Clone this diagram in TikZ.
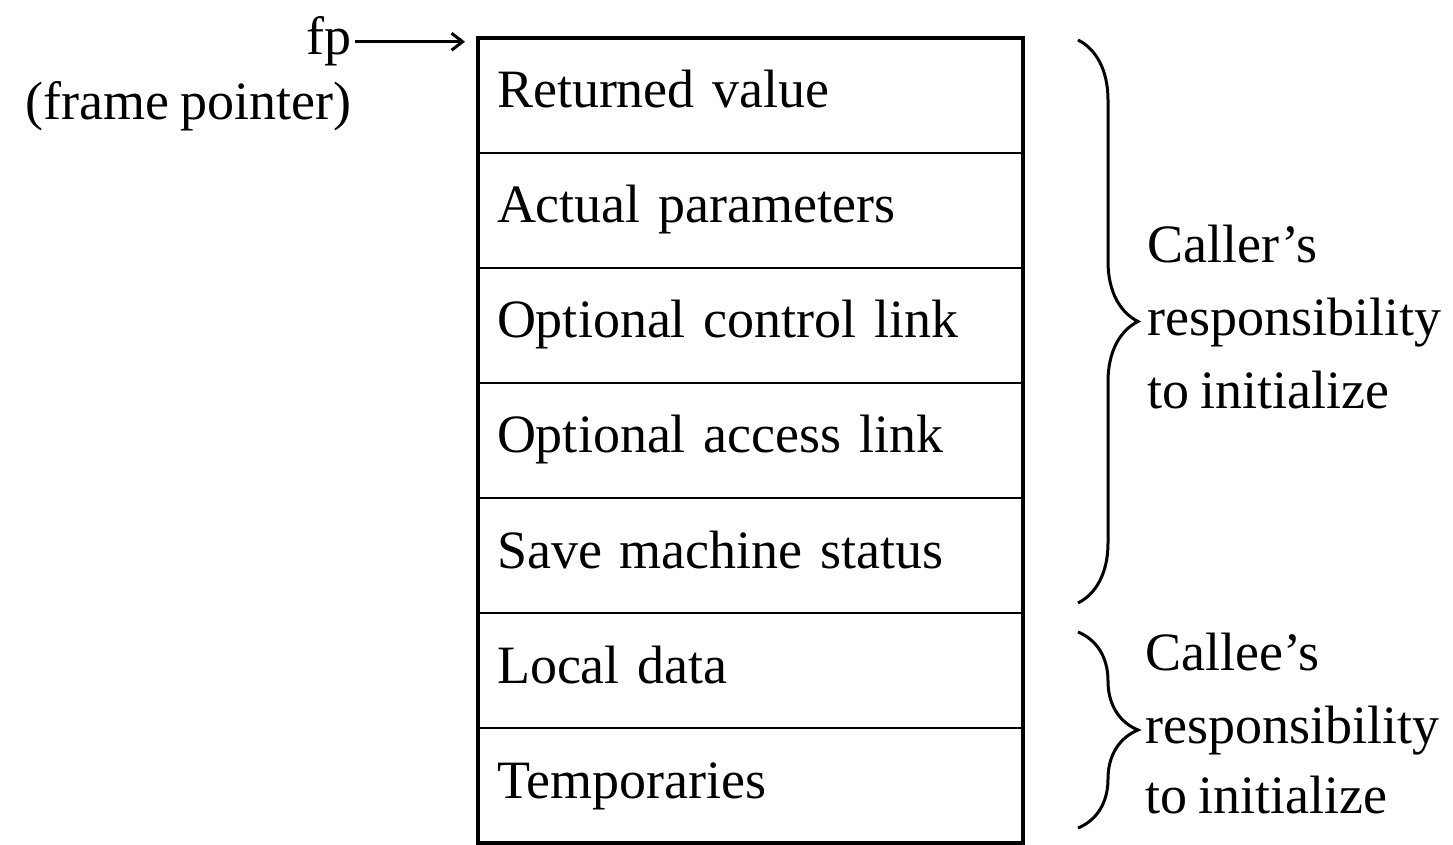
\documentclass[tikz,border=0pt]{standalone}
\usepackage{fontspec}
\setmainfont{Liberation Serif}[WordSpace=0.85]
\usetikzlibrary{arrows.meta,positioning,decorations.pathreplacing}
\begin{document}
\begin{tikzpicture}[x=1pt,y=1pt,
  big/.style={font=\fontsize{54}{73}\selectfont},
  row/.style={draw=black, line width=2.2pt, outer sep=0pt, minimum width=545pt, minimum height=115pt,
    inner xsep=19pt, inner ysep=0pt, text width=507pt, align=left,
    text height=40pt, text depth=15pt, big, anchor=north},
  lbl/.style={big, anchor=base west, inner sep=0pt},
  bracestyle/.style={decorate, line width=3pt, decoration={brace, amplitude=60pt, aspect=0.5}},
  ptr/.style={line width=3pt, -{Straight Barb[length=11pt,width=17pt,line width=3pt]}}
]
\useasboundingbox (0,0) rectangle (1453,844);
\fill[white] (0,0) rectangle (1453,844);

% frame rows
\node[row] (r1) at (750.5,806) {Returned value};
\node[row, below=0pt of r1] (r2) {Actual parameters};
\node[row, below=0pt of r2] (r3) {Optional control link};
\node[row, below=0pt of r3] (r4) {Optional access link};
\node[row, below=0pt of r4] (r5) {Save machine status};
\node[row, below=0pt of r5] (r6) {Local data};
\node[row, below=0pt of r6] (r7) {Temporaries};
\draw[line width=3.4pt] (r1.north west) rectangle (r7.south east);

% frame pointer
\node[big, anchor=base east, inner sep=0pt] (fp) at (352,789) {fp};
\node[big, anchor=base east, inner sep=0pt] (fpl) at (352,724) {(frame pointer)};
\coordinate (fptip) at (465,802);
\draw[ptr] (fp.east) ++(3pt,0) -- (fptip |- fp.east);

% braces
\coordinate (b1t) at (1078,804);
\coordinate (b1b) at (1078,241);
\coordinate (b2t) at (1078,212);
\coordinate (b2b) at (1078,16);
\draw[bracestyle] (b1t) -- (b1b);
\draw[bracestyle] (b2t) -- (b2b);

% labels
\node[lbl] (c1) at (1147,581) {Caller’s};
\node[lbl] (c2) at (1147,508) {responsibility};
\node[lbl] (c3) at (1147,435) {to initialize};
\node[lbl] (e1) at (1145,174) {Callee’s};
\node[lbl] (e2) at (1145,101) {responsibility};
\node[lbl] (e3) at (1145,31) {to initialize};
\end{tikzpicture}
\end{document}
